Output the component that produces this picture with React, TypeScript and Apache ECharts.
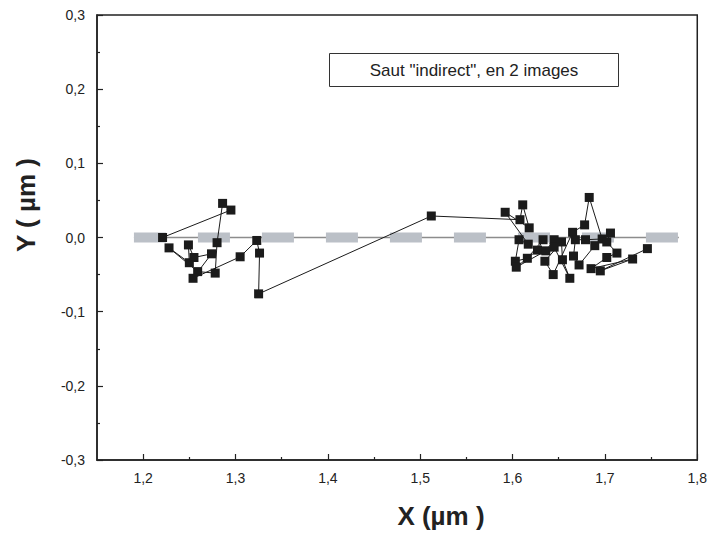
import React, { useEffect, useRef } from "react";
import * as echarts from "echarts";

// Trajectory (ordered) of the measured points
const pathX = [
  1.221, 1.295, 1.286, 1.28, 1.278, 1.259, 1.228, 1.25, 1.249, 1.255, 1.274, 1.254, 1.305, 1.323, 1.326, 1.325,
  1.512,
  1.608, 1.611, 1.618, 1.592, 1.617, 1.607, 1.603, 1.616, 1.633, 1.627, 1.604, 1.636, 1.645, 1.645, 1.662, 1.654,
  1.653, 1.635, 1.644, 1.665, 1.678, 1.683, 1.697, 1.679, 1.668, 1.666, 1.672, 1.689, 1.706, 1.702, 1.713, 1.702,
  1.685, 1.73, 1.695, 1.746,
];
const pathY = [
  0.0, 0.037, 0.046, -0.007, -0.048, -0.046, -0.014, -0.034, -0.01, -0.027, -0.022, -0.055, -0.026, -0.004, -0.021, -0.076,
  0.029,
  0.024, 0.044, 0.013, 0.034, -0.009, -0.003, -0.032, -0.028, -0.003, -0.017, -0.04, -0.018, -0.003, -0.013, -0.055, -0.03,
  -0.006, -0.032, -0.05, 0.007, 0.017, 0.054, -0.002, -0.003, -0.003, -0.025, -0.037, -0.011, 0.006, -0.006, -0.021, -0.027,
  -0.042, -0.029, -0.045, -0.015,
];
// Reference (zero) line
const refX = [1.19, 1.78];
const refY = [0, 0];

const xTicks = [1.2, 1.3, 1.4, 1.5, 1.6, 1.7, 1.8];
const xMinorTicks = [1.25, 1.35, 1.45, 1.55, 1.65, 1.75];
const legendText = 'Saut "indirect", en 2 images';
const xTitle = "X (µm )";
const yTitle = "Y ( µm )";

const fmt = (v: number) => v.toFixed(1).replace(".", ",");
const FONT = "Liberation Sans, Arial, sans-serif";

export default function App() {
  const ref = useRef<HTMLDivElement>(null);
  useEffect(() => {
    if (!ref.current) return;
    document.body.style.margin = "0";
    const chart = echarts.init(ref.current, undefined, { renderer: "svg" });
    const pathData = pathX.map((x, i) => [x, pathY[i]]);
    const refData = refX.map((x, i) => [x, refY[i]]);
    chart.setOption({
      animation: false,
      backgroundColor: "#ffffff",
      grid: {
        left: 97,
        right: 10,
        top: 15,
        bottom: 74,
        show: true,
        borderColor: "#222",
        borderWidth: 1.5,
        backgroundColor: "transparent",
      },
      xAxis: [
        {
          type: "value",
          min: 1.15,
          max: 1.8,
          axisLine: { show: true, onZero: false, lineStyle: { color: "#222", width: 1.5 } },
          axisTick: { show: true, inside: true, length: 6, customValues: xTicks, lineStyle: { color: "#222", width: 1.2 } },
          axisLabel: {
            show: true,
            customValues: xTicks,
            formatter: (v: number) => fmt(v),
            color: "#222",
            fontSize: 14,
            fontFamily: FONT,
            margin: 11,
          },
          splitLine: { show: false },
        },
        {
          type: "value",
          position: "bottom",
          min: 1.15,
          max: 1.8,
          axisLine: { show: false, onZero: false },
          axisTick: { show: true, inside: true, length: 3, customValues: xMinorTicks, lineStyle: { color: "#222", width: 1.2 } },
          axisLabel: { show: false },
          splitLine: { show: false },
        },
      ],
      yAxis: {
        type: "value",
        min: -0.3,
        max: 0.3,
        interval: 0.1,
        axisLine: { show: true, onZero: false, lineStyle: { color: "#222", width: 1.5 } },
        axisTick: { show: true, inside: true, length: 6, lineStyle: { color: "#222", width: 1.2 } },
        minorTick: { show: true, splitNumber: 2, length: 3, lineStyle: { color: "#222", width: 1.2 } },
        axisLabel: {
          formatter: (v: number) => fmt(v),
          color: "#222",
          fontSize: 14,
          fontFamily: FONT,
          margin: 12,
        },
        splitLine: { show: false },
      },
      series: [
        {
          type: "line",
          data: refData,
          symbol: "none",
          lineStyle: { color: "#8c8c8c", width: 1.5 },
          z: 1,
        },
        {
          type: "line",
          data: refData,
          symbol: "none",
          lineStyle: { color: "#bbc0c7", width: 10, type: [32, 32], cap: "butt" },
          z: 2,
        },
        {
          type: "line",
          data: pathData,
          symbol: "rect",
          symbolSize: 9,
          itemStyle: { color: "#1b1b1b" },
          lineStyle: { color: "#1b1b1b", width: 1 },
          z: 3,
        },
      ],
      graphic: [
        {
          type: "rect",
          shape: { x: 329.5, y: 53.5, width: 289, height: 33 },
          style: { fill: "#fff", stroke: "#333", lineWidth: 1 },
          z: 10,
        },
        {
          type: "text",
          x: 474,
          y: 70,
          style: {
            text: legendText,
            fill: "#222",
            font: `17px ${FONT}`,
            textAlign: "center",
            textVerticalAlign: "middle",
          },
          z: 11,
        },
        {
          type: "text",
          x: 441,
          y: 516,
          style: {
            text: xTitle,
            fill: "#222",
            font: `bold 26px ${FONT}`,
            textAlign: "center",
            textVerticalAlign: "middle",
          },
        },
        {
          type: "text",
          x: 26,
          y: 205,
          rotation: Math.PI / 2,
          style: {
            text: yTitle,
            fill: "#222",
            font: `bold 26px ${FONT}`,
            textAlign: "center",
            textVerticalAlign: "middle",
          },
        },
      ],
    });
    return () => chart.dispose();
  }, []);
  return <div ref={ref} style={{ width: 710, height: 534 }} />;
}
